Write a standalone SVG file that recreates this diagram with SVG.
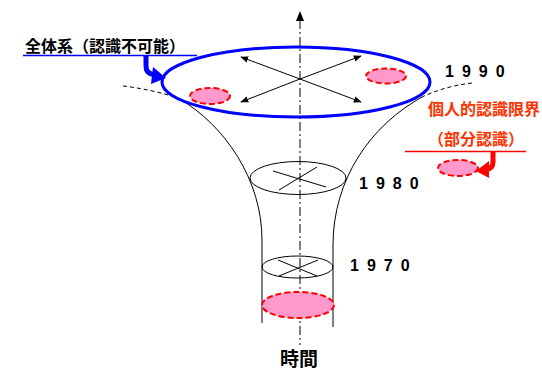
<svg xmlns="http://www.w3.org/2000/svg" width="542" height="370" viewBox="0 0 542 370">
<style>
.t{font-family:"Liberation Sans","Noto Sans CJK JP",sans-serif;font-weight:bold}
.yr{font-family:"Liberation Sans",sans-serif;font-weight:bold;font-size:16px;letter-spacing:8px;fill:#000}
.ln{fill:none;stroke:#000;stroke-width:1}
.dsh{fill:none;stroke:#000;stroke-width:1;stroke-dasharray:4,3}
.pink{fill:#ff99cc;stroke:#ff0000;stroke-width:2;stroke-dasharray:6,3}
</style>
<defs>
<marker id="ah" viewBox="0 0 10 10" refX="9" refY="5" markerWidth="8" markerHeight="8" markerUnits="userSpaceOnUse" orient="auto">
<path d="M0,1 L10,5 L0,9 Z" fill="#000"/>
</marker>
</defs>
<rect width="542" height="370" fill="#fff"/>
<g id="funnel">
<path class="dsh" d="M123,86 C140,88 160,92 178,98"/>
<path class="ln" d="M178,98 C225,125 262,180 262,240 L262,323"/>
<path class="dsh" d="M472,83 C455,85 440,89 424,96"/>
<path class="ln" d="M424,96 C370,125 333,180 333,245 L333,327"/>
</g>
<g id="ellipse1990">
<ellipse cx="296" cy="82" rx="134" ry="35" fill="#fff" stroke="#0000ff" stroke-width="3"/>
</g>
<g id="axis">
<line x1="300" y1="20" x2="300" y2="345" stroke="#000" stroke-width="1" stroke-dasharray="9,3,2,3"/>
<polygon points="300,11 296,21 304,21" fill="#000"/>
</g>
<g id="connectors">
<line class="ln" x1="300" y1="79" x2="241" y2="57" marker-end="url(#ah)"/>
<line class="ln" x1="300" y1="79" x2="241" y2="102" marker-end="url(#ah)"/>
<line class="ln" x1="300" y1="79" x2="361" y2="56" marker-end="url(#ah)"/>
<line class="ln" x1="300" y1="79" x2="361" y2="102" marker-end="url(#ah)"/>
</g>
<g id="pink1990L"><ellipse class="pink" cx="210" cy="96" rx="20" ry="8"/></g>
<g id="pink1990R"><ellipse class="pink" cx="386" cy="76" rx="20" ry="7.5"/></g>
<g id="ellipse1980">
<ellipse class="ln" cx="298" cy="178" rx="48" ry="16.5"/>
<line class="ln" x1="273" y1="171" x2="326" y2="187"/>
<line class="ln" x1="279" y1="190" x2="317" y2="167"/>
</g>
<g id="ellipse1970">
<ellipse class="ln" cx="297.5" cy="267" rx="35.5" ry="11"/>
<line class="ln" x1="278" y1="260" x2="317" y2="276"/>
<line class="ln" x1="279" y1="276" x2="318" y2="260"/>
</g>
<g id="pink1970"><ellipse class="pink" cx="298" cy="305" rx="36" ry="13"/></g>
<g id="label-whole">
<text class="t" x="25" y="52" font-size="16" fill="#000">全体系（認識不可能）</text>
<line x1="23" y1="55.5" x2="197" y2="55.5" stroke="#0000ff" stroke-width="1.5"/>
<path d="M146,56 V66 Q146,74 155,75" fill="none" stroke="#0000ff" stroke-width="5"/>
<polygon points="166,78 153,67 151,84" fill="#0000ff"/>
</g>
<g id="label-partial">
<text class="t" x="484" y="115" font-size="16" fill="#ff3300" text-anchor="middle">個人的認識限界</text>
<text class="t" x="476" y="145" font-size="16" fill="#ff3300" text-anchor="middle">（部分認識）</text>
<line x1="405" y1="151.5" x2="526" y2="151.5" stroke="#ff0000" stroke-width="1.5"/>
<path d="M493,152 V162 Q493,169 486,169" fill="none" stroke="#ff0000" stroke-width="5"/>
<polygon points="476,171 489,161 489,178" fill="#ff0000"/>
<ellipse class="pink" cx="458" cy="168" rx="20" ry="8"/>
</g>
<g id="years">
<text class="yr" x="445" y="77">1990</text>
<text class="yr" x="359" y="189">1980</text>
<text class="yr" x="350" y="271">1970</text>
</g>
<g id="label-time">
<text class="t" x="299" y="366" font-size="19" fill="#000" text-anchor="middle">時間</text>
</g>
</svg>
